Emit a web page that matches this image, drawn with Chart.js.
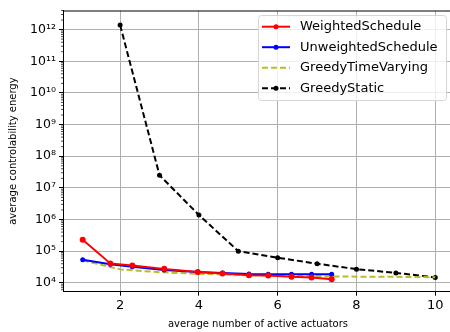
<!DOCTYPE html>
<html><head><meta charset="utf-8">
<script src="https://cdn.jsdelivr.net/npm/chart.js@4"></script>
<style>html,body{margin:0;padding:0;overflow:hidden;background:#fff;width:450px;height:332px}canvas{display:block}</style>
</head><body><canvas id="c" width="460" height="332" style="width:460px;height:332px"></canvas>
<script>
const seriesNames = ['WeightedSchedule', 'UnweightedSchedule', 'GreedyTimeVarying', 'GreedyStatic'];
const scheduleX = [1.05, 1.75, 2.31, 3.12, 3.97, 4.6, 5.27, 5.76, 6.35, 6.86, 7.37];
const weightedY = [2.3e5, 4.1e4, 3.5e4, 2.75e4, 2.2e4, 1.95e4, 1.74e4, 1.7e4, 1.54e4, 1.47e4, 1.3e4];
const unweightedY = [5.3e4, 3.85e4, 3.2e4, 2.55e4, 2.2e4, 2.05e4, 1.9e4, 1.87e4, 1.86e4, 1.85e4, 1.85e4];
const greedyTVX = [1.05, 2, 3, 4, 5, 6, 7, 8, 9, 10];
const greedyTVY = [5.1e4, 2.65e4, 2.15e4, 1.92e4, 1.78e4, 1.66e4, 1.6e4, 1.56e4, 1.54e4, 1.5e4];
const greedyStaticX = [2, 3, 4, 5, 6, 7, 8, 9, 10];
const greedyStaticY = [1.39e12, 2.5e7, 1.39e6, 1.0e5, 6.2e4, 4.0e4, 2.7e4, 2.05e4, 1.48e4];
const xTicks = [2, 4, 6, 8, 10];
const yTickExponents = [4, 5, 6, 7, 8, 9, 10, 11, 12];

const FONT = 'DejaVu Sans';
const sup = {'0':'⁰','1':'¹','2':'²','3':'³','4':'⁴','5':'⁵','6':'⁶','7':'⁷','8':'⁸','9':'⁹'};
const pts = (xs, ys) => xs.map((x, i) => ({x: x, y: ys[i]}));
const colors = ['#ff0000', '#0000ff', '#bcbd22', '#000000'];

const minorTicks = {
  id: 'minorTicks',
  afterDraw(chart) {
    const ctx = chart.ctx, ys = chart.scales.y, ca = chart.chartArea;
    ctx.save();
    ctx.strokeStyle = '#000'; ctx.lineWidth = 0.7;
    for (let d = 3; d <= 12; d++) {
      for (let k = 2; k <= 9; k++) {
        const v = k * Math.pow(10, d);
        if (v < ys.min || v > ys.max) continue;
        const y = ys.getPixelForValue(v);
        ctx.beginPath(); ctx.moveTo(ca.left - 2, y); ctx.lineTo(ca.left, y); ctx.stroke();
      }
    }
    ctx.lineWidth = 1;
    ctx.beginPath(); ctx.moveTo(ca.left, ca.top + 0.5); ctx.lineTo(ca.right, ca.top + 0.5); ctx.stroke();
    ctx.restore();
  }
};

const legendBox = {
  id: 'legendBox',
  afterDraw(chart) {
    const ctx = chart.ctx;
    const bx = 258.5, by = 15.5, bw = 188, bh = 85, r = 3;
    ctx.save();
    ctx.beginPath();
    ctx.moveTo(bx + r, by); ctx.lineTo(bx + bw - r, by); ctx.arcTo(bx + bw, by, bx + bw, by + r, r);
    ctx.lineTo(bx + bw, by + bh - r); ctx.arcTo(bx + bw, by + bh, bx + bw - r, by + bh, r);
    ctx.lineTo(bx + r, by + bh); ctx.arcTo(bx, by + bh, bx, by + bh - r, r);
    ctx.lineTo(bx, by + r); ctx.arcTo(bx, by, bx + r, by, r); ctx.closePath();
    ctx.fillStyle = 'rgba(255,255,255,0.8)'; ctx.fill();
    ctx.strokeStyle = '#d6d6d6'; ctx.lineWidth = 1; ctx.stroke();
    chart.data.datasets.forEach((ds, i) => {
      const y = 26.7 + i * 20.5;
      ctx.strokeStyle = ds.borderColor; ctx.lineWidth = 2;
      ctx.setLineDash(ds.borderDash || []);
      ctx.beginPath(); ctx.moveTo(262, y); ctx.lineTo(290, y); ctx.stroke();
      ctx.setLineDash([]);
      if (ds.pointRadius > 0) {
        ctx.fillStyle = ds.borderColor;
        ctx.beginPath(); ctx.arc(276, y, 2.5, 0, Math.PI * 2); ctx.fill();
      }
      ctx.fillStyle = '#000'; ctx.font = '13px "' + FONT + '"';
      ctx.textBaseline = 'middle'; ctx.textAlign = 'left';
      ctx.fillText(ds.label, 300, y);
    });
    ctx.restore();
  }
};

new Chart(document.getElementById('c'), {
  type: 'line',
  data: {
    datasets: [
      {label: seriesNames[0], data: pts(scheduleX, weightedY), borderColor: colors[0], backgroundColor: colors[0], borderWidth: 2, pointRadius: 3, pointBorderWidth: 0},
      {label: seriesNames[1], data: pts(scheduleX, unweightedY), borderColor: colors[1], backgroundColor: colors[1], borderWidth: 2, pointRadius: 2.5, pointBorderWidth: 0},
      {label: seriesNames[2], data: pts(greedyTVX, greedyTVY), borderColor: colors[2], backgroundColor: colors[2], borderWidth: 2, borderDash: [6, 3], pointRadius: 0},
      {label: seriesNames[3], data: pts(greedyStaticX, greedyStaticY), borderColor: colors[3], backgroundColor: colors[3], borderWidth: 2, borderDash: [6, 3], pointRadius: 2.5, pointBorderWidth: 0}
    ]
  },
  options: {
    responsive: false, animation: false,
    layout: {padding: {top: 8, right: 7, left: 0, bottom: 0}},
    plugins: {legend: {display: false}, tooltip: {enabled: false}},
    elements: {line: {tension: 0}},
    scales: {
      x: {
        type: 'linear', min: 0.55, max: 10.45,
        afterBuildTicks: s => { s.ticks = xTicks.map(v => ({value: v})); },
        afterFit: s => { s.height = 40.3; },
        ticks: {font: {family: FONT, size: 13}, color: '#000', padding: 2, maxRotation: 0},
        grid: {color: '#b0b0b0', lineWidth: 1, tickColor: '#000', tickLength: 4},
        border: {color: '#000', width: 1},
        title: {display: true, text: 'average number of active actuators', font: {family: FONT, size: 10}, color: '#000', padding: {top: 0, bottom: 2}}
      },
      y: {
        type: 'logarithmic', min: Math.pow(10, 3.718), max: Math.pow(10, 12.604),
        afterBuildTicks: s => { s.ticks = yTickExponents.map(e => ({value: Math.pow(10, e)})); },
        afterFit: s => { s.width = 63; },
        ticks: {
          font: {family: FONT, size: 12.5}, color: '#000', padding: 3,
          callback: v => '10' + String(Math.round(Math.log10(v))).split('').map(c => sup[c]).join('')
        },
        grid: {color: '#b0b0b0', lineWidth: 1, tickColor: '#000', tickLength: 4},
        border: {color: '#000', width: 1},
        title: {display: true, text: 'average controlability energy', font: {family: FONT, size: 10}, color: '#000', padding: {top: 7, bottom: 0}}
      }
    }
  },
  plugins: [minorTicks, legendBox]
});
</script></body></html>
